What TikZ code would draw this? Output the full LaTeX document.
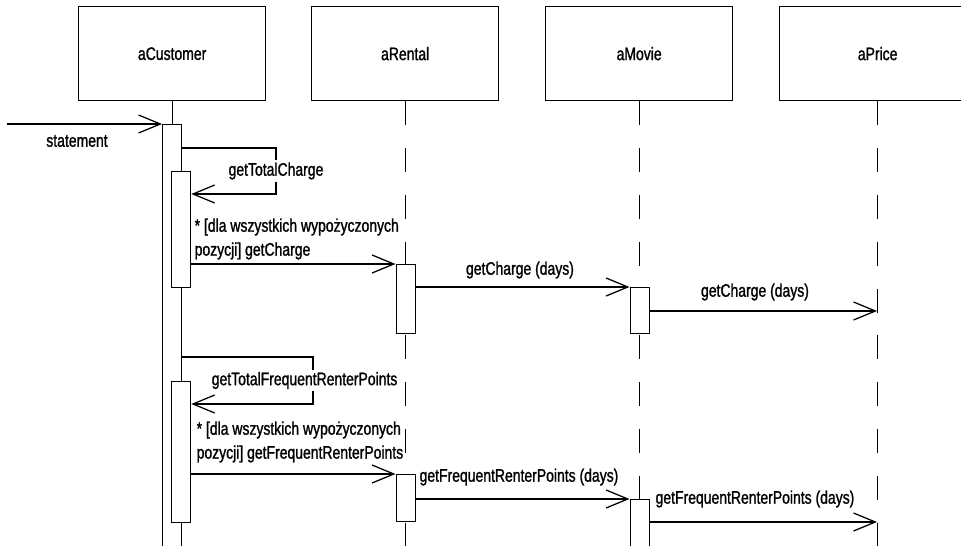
\documentclass[tikz,border=0pt]{standalone}
\usepackage{fontspec}
\setmainfont{Liberation Sans}[FakeStretch=0.77,FakeBold=1.2]
\usetikzlibrary{arrows.meta,positioning,calc}

\begin{document}
\begin{tikzpicture}[x=0.025cm, y=-0.025cm, font=\fontsize{12.9}{17}\selectfont,
    obj/.style={draw, line width=0.9pt, minimum width=4.675cm, minimum height=2.35cm, anchor=north west},
    act/.style={draw, fill=white, line width=0.9pt, minimum width=0.475cm, inner sep=0pt, anchor=north west},
    life/.style={line width=0.8pt, dash pattern=on 17pt off 16.3pt},
    msg/.style={line width=0.9pt, -{Straight Barb[length=15.5pt,width=12.8pt]}},
    lbl/.style={inner sep=1pt},
    selflbl/.style={fill=white, inner sep=1.5pt}]
      \useasboundingbox (0,0) rectangle (961,546);
      \clip (0,0) rectangle (961,546);
      % objects
      \node[obj] (cust) at (78,6) {aCustomer};
      \node[obj] (rental) at (311,6) {aRental};
      \node[obj] (movie) at (545,6) {aMovie};
      \node[obj, minimum width=4.9cm] (price) at (779,6) {aPrice};
      % lifelines
      \draw[line width=0.9pt] (cust.south) -- ++(0,24);
      \foreach \o in {rental,movie,price}
        \draw[life] (\o.south) -- ++(0,446);
      % activations
      \node[act, minimum height=11cm] (actC) at (162,124) {};
      \node[act, minimum height=2.9cm] (actC1) at (171,171) {};
      \node[act, minimum height=3.525cm] (actC2) at (171,381) {};
      \node[act, minimum height=1.725cm] (actR1) at (395.5,264) {};
      \node[act, minimum height=1.175cm] (actR2) at (395.5,474) {};
      \node[act, minimum height=1.15cm] (actM1) at (629.5,287) {};
      \node[act, minimum height=1.5cm] (actM2) at (629.5,499) {};
      % statement
      \coordinate (caller) at (7,124);
      \draw[msg] (caller) -- (actC.north west);
      \node[lbl] (lstatement) at (77,141) {statement};
      % charges
      \draw[msg] (actC.east |- 0,148) -- (276,148) -- node[selflbl] (lself1) {getTotalCharge} (276,194) -- (actC1.east |- 0,194);
      \draw[msg] (actC1.east |- actR1.north) -- (actR1.north west);
      \node[lbl, anchor=west, align=left] (lcharge) at (193,239) {* [dla wszystkich wypożyczonych\\pozycji] getCharge};
      \draw[msg] (actR1.east |- actM1.north) -- (actM1.north west);
      \node[lbl] (ldays1) at (520,270) {getCharge (days)};
      \coordinate (p1) at (877,311);
      \draw[msg] (actM1.east |- p1) -- (p1);
      \node[lbl] (ldays2) at (755,292) {getCharge (days)};
      % frequent renter points
      \draw[msg] (actC.east |- 0,357) -- (313,357) -- node[selflbl, xshift=-6pt] (lself2) {getTotalFrequentRenterPoints} (313,404) -- (actC2.east |- 0,404);
      \draw[msg] (actC2.east |- actR2.north) -- (actR2.north west);
      \node[lbl, anchor=west, align=left] (lfreq) at (195,442) {* [dla wszystkich wypożyczonych\\pozycji] getFrequentRenterPoints};
      \draw[msg] (actR2.east |- actM2.north) -- (actM2.north west);
      \node[lbl] (ldays3) at (519,477) {getFrequentRenterPoints (days)};
      \coordinate (p2) at (877,522);
      \draw[msg] (actM2.east |- p2) -- (p2);
      \node[lbl] (ldays4) at (755,499) {getFrequentRenterPoints (days)};
    \end{tikzpicture}
\end{document}
